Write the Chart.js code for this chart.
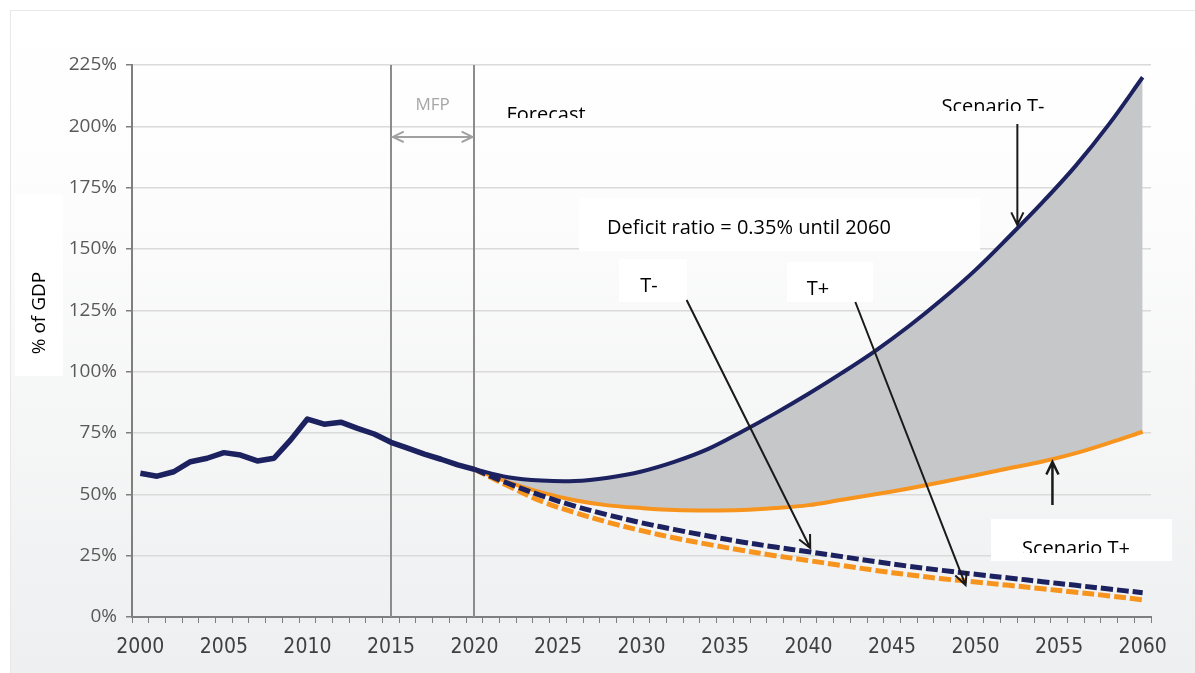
<!DOCTYPE html>
<html>
<head>
<meta charset="utf-8">
<script src="https://cdn.jsdelivr.net/npm/chart.js@4.4.1/dist/chart.umd.min.js"></script>
<style>
  html, body { margin: 0; padding: 0; background: #ffffff; }
  #wrap { width: 1195px; height: 673px; position: relative; }
</style>
</head>
<body>
<div id="wrap"><canvas id="debtChart" width="1195" height="673"></canvas></div>
<script>
// Debt ratio projection, % of GDP

// x categories and y ticks
const yearLabels = Array.from({ length: 61 }, (_, i) => String(2000 + i));
const yTicks = [0, 25, 50, 75, 100, 125, 150, 175, 200, 225];

// history 2000-2020
const histYears = ['2000', '2001', '2002', '2003', '2004', '2005', '2006', '2007', '2008', '2009', '2010',
  '2011', '2012', '2013', '2014', '2015', '2016', '2017', '2018', '2019', '2020'];
const histDebt = [58.6, 57.4, 59.2, 63.3, 64.7, 67.0, 66.0, 63.6, 64.7, 72.2, 80.7,
  78.6, 79.4, 76.9, 74.6, 71.2, 68.8, 66.4, 64.3, 62.0, 60.2];

// forecast 2020-2060
const fcYears = ['2020', '2022', '2024', '2026', '2028', '2030', '2032', '2034', '2036', '2038', '2040',
  '2042', '2044', '2046', '2048', '2050', '2052', '2054', '2056', '2058', '2060'];
const scenarioTMinus = [60.2, 57.0, 55.6, 55.4, 56.8, 59.3, 63.3, 68.5, 75.5, 83.0, 91.0,
  99.5, 108.5, 118.5, 129.5, 141.5, 155.0, 169.0, 184.0, 201.0, 220.0];
const scenarioTPlus = [60.2, 55.0, 50.8, 47.6, 45.5, 44.4, 43.6, 43.4, 43.6, 44.4, 45.6,
  47.8, 50.0, 52.4, 55.0, 57.8, 60.6, 63.4, 66.8, 71.0, 75.5];
const deficitTMinus = [60.2, 54.5, 49.5, 45.2, 41.6, 38.4, 35.6, 33.0, 30.6, 28.5, 26.6,
  24.6, 22.6, 20.7, 19.0, 17.4, 15.9, 14.4, 12.9, 11.4, 9.9];
const deficitTPlus = [60.2, 53.5, 47.2, 42.6, 38.6, 35.2, 32.2, 29.6, 27.2, 25.0, 23.0,
  21.0, 19.0, 17.2, 15.6, 14.3, 12.9, 11.5, 10.1, 8.6, 7.0];

const NAVY = '#1c215f';
const ORANGE = '#f7941e';
const NOTE_FONT = '20px "Open Sans", "Noto Sans", sans-serif';

function pairs(xs, ys) {
  return xs.map((x, i) => ({ x: x, y: ys[i] }));
}

function arrow(ctx, x1, y1, x2, y2, head, color, width) {
  const a = Math.atan2(y2 - y1, x2 - x1);
  ctx.strokeStyle = color;
  ctx.lineWidth = width;
  ctx.beginPath();
  ctx.moveTo(x1, y1);
  ctx.lineTo(x2, y2);
  ctx.moveTo(x2 - head * Math.cos(a - 0.45), y2 - head * Math.sin(a - 0.45));
  ctx.lineTo(x2, y2);
  ctx.lineTo(x2 - head * Math.cos(a + 0.45), y2 - head * Math.sin(a + 0.45));
  ctx.stroke();
}

function clippedText(ctx, text, x, y, clipBottom) {
  ctx.save();
  ctx.beginPath();
  ctx.rect(x - 200, y - 40, 400, clipBottom - (y - 40));
  ctx.clip();
  ctx.fillText(text, x, y);
  ctx.restore();
}

// background panel
const backgroundPlugin = {
  id: 'panel',
  beforeDraw(chart) {
    const ctx = chart.ctx;
    ctx.save();
    ctx.fillStyle = '#ffffff';
    ctx.fillRect(0, 0, chart.width, chart.height);
    const g = ctx.createLinearGradient(0, 10, 0, chart.height);
    g.addColorStop(0, '#ffffff');
    g.addColorStop(0.25, '#fdfdfd');
    g.addColorStop(1, '#eeeff0');
    ctx.fillStyle = g;
    ctx.fillRect(10, 10, chart.width - 10, chart.height - 10);
    ctx.strokeStyle = '#e8e8e8';
    ctx.lineWidth = 1;
    ctx.strokeRect(10.5, 10.5, chart.width, chart.height);
    ctx.restore();
  },
  beforeDatasetsDraw(chart) {
    // MFP period markers
    const ctx = chart.ctx;
    const xs = chart.scales.x;
    const area = chart.chartArea;
    ctx.save();
    ctx.strokeStyle = '#8c8c8c';
    ctx.lineWidth = 2;
    ['2015', '2020'].forEach(yr => {
      const px = Math.round(xs.getPixelForValue(xs.getLabels().indexOf(yr)));
      ctx.beginPath();
      ctx.moveTo(px, area.top);
      ctx.lineTo(px, area.bottom);
      ctx.stroke();
    });
    ctx.restore();
  }
};

// callouts and arrows on top
const calloutPlugin = {
  id: 'callouts',
  afterDraw(chart) {
    const ctx = chart.ctx;
    const xs = chart.scales.x;
    const ys = chart.scales.y;
    const px = (yr, v) => [xs.getPixelForValue(yr - 2000), ys.getPixelForValue(v)];
    ctx.save();

    // white boxes
    ctx.fillStyle = '#ffffff';
    ctx.fillRect(15, 195, 48, 181);
    ctx.fillRect(579, 198, 401, 53);
    ctx.fillRect(619, 259, 68, 43);
    ctx.fillRect(787, 262, 86, 40);
    ctx.fillRect(991, 519, 181, 42);

    // y axis title
    ctx.fillStyle = '#000000';
    ctx.font = '19px "Open Sans", "Noto Sans", sans-serif';
    ctx.textAlign = 'center';
    ctx.textBaseline = 'middle';
    ctx.save();
    ctx.translate(40, 313);
    ctx.rotate(-Math.PI / 2);
    ctx.fillText('% of GDP', 0, 0);
    ctx.restore();

    // MFP double arrow
    const [mx1, my] = px(2015, 195.7);
    const [mx2] = px(2020, 195.7);
    arrow(ctx, mx1 + 2, my, mx2 - 2, my, 12, '#a0a0a0', 2);
    arrow(ctx, mx2 - 2, my, mx1 + 2, my, 12, '#a0a0a0', 2);
    ctx.fillStyle = '#a6a6a6';
    ctx.font = '17px "Open Sans", "Noto Sans", sans-serif';
    ctx.textBaseline = 'alphabetic';
    ctx.fillText('MFP', (mx1 + mx2) / 2, 110);

    // labels
    ctx.fillStyle = '#000000';
    ctx.font = NOTE_FONT;
    ctx.textAlign = 'center';
    clippedText(ctx, 'Forecast', 546, 121, 118);
    clippedText(ctx, 'Scenario T-', 993, 113, 111);
    ctx.fillText('Deficit ratio = 0.35% until 2060', 749, 234);
    ctx.fillText('T-', 649, 292);
    ctx.fillText('T+', 818, 295);
    clippedText(ctx, 'Scenario T+', 1076, 555, 553);

    // arrows
    const c = '#1a1a1a';
    let p, q;
    p = px(2052.5, 201); q = px(2052.5, 159.8);
    arrow(ctx, p[0], p[1], q[0], q[1], 14, c, 2);
    p = px(2032.7, 129.2); q = px(2040.1, 28.1);
    arrow(ctx, p[0], p[1], q[0], q[1], 14, c, 2);
    p = px(2042.8, 128.4); q = px(2049.4, 13.0);
    arrow(ctx, p[0], p[1], q[0], q[1], 14, c, 2);
    p = px(2054.6, 45.7); q = px(2054.6, 63.2);
    arrow(ctx, p[0], p[1], q[0], q[1], 14, c, 2.5);

    ctx.restore();
  }
};

function renderDebtChart() {
  const ctx = document.getElementById('debtChart');
  if (!ctx) return;

  new Chart(ctx, {
    type: 'line',
    data: {
      labels: yearLabels,
      datasets: [
        {
          label: 'History',
          data: pairs(histYears, histDebt),
          borderColor: NAVY,
          borderWidth: 5.5,
          tension: 0,
          fill: false
        },
        {
          label: 'Scenario T-',
          data: pairs(fcYears, scenarioTMinus),
          borderColor: NAVY,
          borderWidth: 4,
          backgroundColor: '#c6c7c9',
          fill: { target: 3 }
        },
        {
          label: 'T-',
          data: pairs(fcYears, deficitTMinus),
          borderColor: NAVY,
          borderWidth: 5,
          borderDash: [12, 4],
          fill: false
        },
        {
          label: 'Scenario T+',
          data: pairs(fcYears, scenarioTPlus),
          borderColor: ORANGE,
          borderWidth: 4,
          fill: false
        },
        {
          label: 'T+',
          data: pairs(fcYears, deficitTPlus),
          borderColor: ORANGE,
          borderWidth: 5,
          borderDash: [12, 4],
          fill: false
        }
      ]
    },
    options: {
      responsive: false,
      animation: false,
      layout: { padding: { left: 0, right: 44, top: 65, bottom: 0 } },
      elements: {
        point: { radius: 0, hoverRadius: 0 },
        line: { tension: 0.35, borderCapStyle: 'butt', borderJoinStyle: 'round' }
      },
      plugins: {
        legend: { display: false },
        tooltip: { enabled: false },
        filler: { drawTime: 'beforeDatasetsDraw' }
      },
      scales: {
        x: {
          type: 'category',
          offset: true,
          grid: {
            offset: true,
            drawOnChartArea: false,
            drawTicks: true,
            tickLength: 6,
            tickColor: '#7f7f7f',
            tickWidth: 1
          },
          border: { color: '#7f7f7f', width: 2 },
          ticks: {
            autoSkip: false,
            maxRotation: 0,
            padding: 12,
            color: '#404040',
            font: { family: '"Liberation Sans Narrow", "DejaVu Sans Condensed", sans-serif', size: 21 },
            callback: function(value, index) {
              const y = Number(yearLabels[index]);
              return y % 5 === 0 ? yearLabels[index] : '';
            }
          },
          afterFit(scale) { scale.height = 56; }
        },
        y: {
          min: 0,
          max: 225,
          afterBuildTicks(scale) { scale.ticks = yTicks.map(v => ({ value: v })); },
          grid: { color: '#dadada', lineWidth: 1.5, tickColor: '#7f7f7f', tickLength: 6 },
          border: { color: '#7f7f7f', width: 2 },
          ticks: {
            padding: 9,
            color: '#595959',
            font: { family: '"Open Sans", "Noto Sans", sans-serif', size: 19 },
            callback: v => v + '%'
          },
          afterFit(scale) { scale.width = 132; }
        }
      }
    },
    plugins: [backgroundPlugin, calloutPlugin]
  });
}

renderDebtChart();
</script>
</body>
</html>
